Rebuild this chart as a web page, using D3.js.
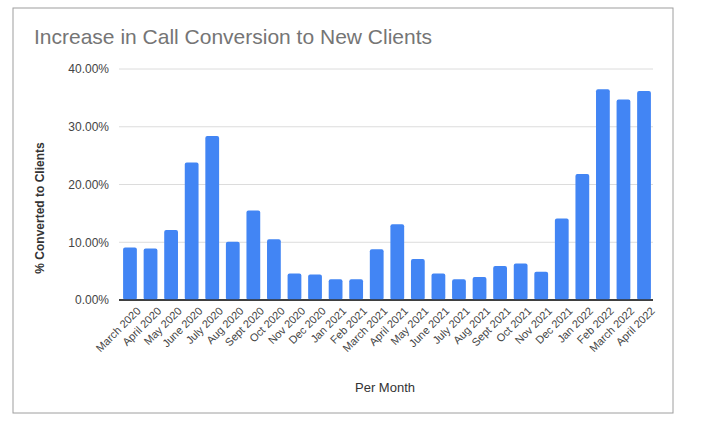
<!DOCTYPE html>
<html><head><meta charset="utf-8">
<script src="https://cdn.jsdelivr.net/npm/d3@7"></script>
<style>body{margin:0;background:#fff;font-family:Arial,"Liberation Sans",sans-serif}</style>
</head><body><main></main>
<script>
const months = ['March 2020','April 2020','May 2020','June 2020','July 2020','Aug 2020','Sept 2020','Oct 2020','Nov 2020','Dec 2020',
  'Jan 2021','Feb 2021','March 2021','April 2021','May 2021','June 2021','July 2021','Aug 2021','Sept 2021','Oct 2021','Nov 2021','Dec 2021',
  'Jan 2022','Feb 2022','March 2022','April 2022'];
const converted = [9.1,8.9,12.1,23.8,28.4,10.1,15.5,10.5,4.6,4.4,3.6,3.6,8.8,13.1,7.1,4.6,3.6,4.0,5.9,6.3,4.9,14.1,21.8,36.5,34.7,36.2];
const yTicks = [0,10,20,30,40];

const width = 723, height = 430;
const svg = d3.select('main').append('svg').attr('width', width).attr('height', height);

// Frame
svg.append('rect')
  .attr('x', 13).attr('y', 8).attr('width', 660).attr('height', 405)
  .style('fill', 'white').style('stroke', '#9e9e9e')

svg.append('text')
  .text('Increase in Call Conversion to New Clients')
  .attr('x', 34).attr('y', 44)
  .style('font-size', '21px').style('fill', '#757575')

const x = d3.scaleBand().domain(months).range([120, 654]).paddingInner(0.33).paddingOuter(0.15);
const y = d3.scaleLinear().domain([0, 40]).range([300, 69]);

// Gridlines
svg.append('g')
  .selectAll('line')
  .data(yTicks)
  .enter()
  .append('line')
  .attr('x1', 119).attr('x2', 653)
  .attr('y1', d => y(d)).attr('y2', d => y(d))
  .style('stroke', d => d === 0 ? '#333' : '#dcdcdc')
  .style('stroke-width', d => d === 0 ? 1.3 : 1)

const yAxis = d3.axisLeft(y).tickValues(yTicks).tickSize(0).tickPadding(8).tickFormat(d => d.toFixed(2) + '%');
const gy = svg.append('g').attr('transform', 'translate(117,0)').call(yAxis);
gy.select('.domain').remove();
gy.selectAll('text').style('font-size', '12px').style('fill', '#444').style('font-family', 'Arial');

// Bars
svg.append('g')
  .selectAll('rect')
  .data(converted)
  .enter()
  .append('rect')
  .attr('x', (d, i) => x(months[i]))
  .attr('y', d => y(d))
  .attr('width', x.bandwidth())
  .attr('height', d => y(0) - y(d))
  .attr('rx', 2)
  .style('fill', '#4285f4')

// redraw baseline over bars
svg.append('line').attr('x1', 119).attr('x2', 653).attr('y1', y(0)).attr('y2', y(0))
  .style('stroke', '#333').style('stroke-width', 1.3)

const xAxis = d3.axisBottom(x).tickSize(0).tickPadding(4);
const gx = svg.append('g').attr('transform', `translate(0,${y(0)})`).call(xAxis);
gx.select('.domain').remove();
gx.selectAll('text')
  .style('font-size', '11px').style('fill', '#444').style('font-family', 'Arial')
  .style('text-anchor', 'end')
  .attr('transform', 'translate(6,6) rotate(-45)')
  .attr('dy', '0.35em')

svg.append('text')
  .text('Per Month')
  .attr('x', 385).attr('y', 392).attr('text-anchor', 'middle')
  .style('font-size', '13px').style('fill', '#333')

svg.append('text')
  .text('% Converted to Clients')
  .attr('transform', 'translate(44,208) rotate(-90)')
  .attr('text-anchor', 'middle')
  .style('font-size', '12px').style('fill', '#333').style('font-weight', 'bold')
</script>
</body></html>
